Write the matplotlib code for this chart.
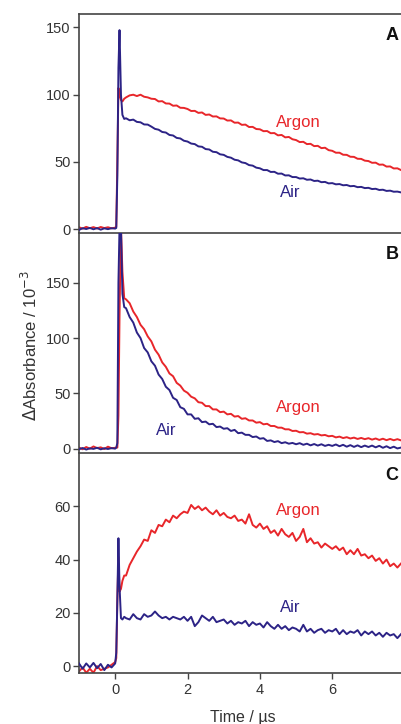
import numpy as np
import matplotlib.pyplot as plt

plt.rcParams['font.family'] = ['Liberation Sans', 'DejaVu Sans']

# time axis (microseconds): baseline, the laser pulse, then the decay
t_pre = [-1.0, -0.9, -0.8, -0.7, -0.6, -0.5, -0.4, -0.3, -0.2, -0.1, 0.0]
t_rise = [0.03, 0.06, 0.09, 0.12, 0.16, 0.2, 0.25]
t_tail = [0.3, 0.4, 0.5, 0.6, 0.7, 0.8, 0.9,
          1.0, 1.1, 1.2, 1.3, 1.4, 1.5, 1.6, 1.7, 1.8, 1.9,
          2.0, 2.1, 2.2, 2.3, 2.4, 2.5, 2.6, 2.7, 2.8, 2.9,
          3.0, 3.1, 3.2, 3.3, 3.4, 3.5, 3.6, 3.7, 3.8, 3.9,
          4.0, 4.1, 4.2, 4.3, 4.4, 4.5, 4.6, 4.7, 4.8, 4.9,
          5.0, 5.1, 5.2, 5.3, 5.4, 5.5, 5.6, 5.7, 5.8, 5.9,
          6.0, 6.1, 6.2, 6.3, 6.4, 6.5, 6.6, 6.7, 6.8, 6.9,
          7.0, 7.1, 7.2, 7.3, 7.4, 7.5, 7.6, 7.7, 7.8, 7.9]
time = t_pre + t_rise + t_tail

# Panel A
a_argon = [1.5, 0.5, 1.8, 0.8, 1.6, 0.6, 1.7, 0.9, 1.5, 0.7, 1.2,
           2, 50, 105, 100, 96, 95, 97,
           98, 99.5, 100, 99, 100, 98.5, 98,
           97, 96.8, 95.0, 95.2, 93.5, 93.4, 91.8, 92.0, 90.3, 90.2,
           89.4, 87.9, 88.0, 86.5, 86.8, 85.0, 85.3, 83.8, 83.9, 82.4,
           82.3, 80.8, 80.9, 79.2, 79.3, 77.6, 77.8, 76.0, 76.1, 74.5,
           74.3, 72.9, 73.0, 71.4, 71.5, 69.8, 70.1, 68.3, 68.6, 66.9,
           66.3, 64.8, 65.0, 63.3, 63.5, 61.8, 62.0, 60.3, 60.6, 58.8,
           58.3, 56.9, 56.9, 55.4, 55.3, 53.9, 53.8, 52.4, 52.3, 51.0,
           50.7, 49.4, 49.5, 48.0, 48.1, 46.6, 46.7, 45.2, 45.3, 44.0]
a_air = [-0.5, 0.8, 0.2, 1.0, 0.0, 0.9, -0.3, 0.7, 0.1, 0.8, 0.5,
         1, 40, 120, 148, 100, 85, 82,
         82.5, 81.0, 81.5, 79.8, 79.5, 77.9, 77.8,
         76.3, 74.6, 74.0, 72.3, 71.9, 70.1, 69.7, 67.9, 67.5, 65.8,
         65.2, 63.7, 63.3, 61.6, 61.3, 59.6, 59.3, 57.6, 57.3, 55.7,
         55.3, 53.8, 53.2, 51.7, 51.2, 49.7, 49.2, 47.7, 47.3, 45.8,
         45.3, 44.0, 44.0, 42.6, 42.7, 41.3, 41.4, 40.0, 40.1, 38.8,
         38.8, 37.7, 37.9, 36.8, 37.0, 35.9, 36.1, 35.0, 35.2, 34.1,
         34.3, 33.4, 33.6, 32.7, 32.9, 32.0, 32.2, 31.3, 31.5, 30.6,
         30.8, 29.9, 30.1, 29.2, 29.4, 28.5, 28.7, 27.9, 28.0, 27.4]

# Panel B
b_argon = [1.0, -0.5, 1.5, 0.0, 2.0, 0.5, 1.2, -0.3, 1.8, 0.4, 0.8,
           1, 1, 30, 120, 200, 160, 136,
           135, 131.5, 124, 119, 112, 108, 101.5,
           97, 89.5, 85, 78, 74, 68, 65.5, 59.5, 57, 52.5,
           50.5, 47, 45.5, 42, 41.5, 38.5, 38.5, 35.5, 35.5, 33,
           33.5, 31, 31.5, 29, 29.5, 27, 27.5, 25.5, 25.5, 23.5,
           24, 22, 22.5, 20.5, 20.5, 19, 19, 17.5, 17.5, 16,
           16.2, 14.8, 15.0, 13.6, 14.0, 12.8, 13.2, 12.0, 12.4, 11.2,
           11.6, 10.2, 10.9, 9.6, 10.4, 9.2, 10.0, 8.8, 9.7, 8.6,
           9.5, 8.2, 9.2, 7.9, 9.0, 7.7, 8.8, 7.6, 8.6, 7.5]
b_air = [-0.5, 0.6, -0.8, 0.3, -0.2, 0.8, -0.6, 0.4, -0.3, 0.5, 0.0,
         1, 5, 150, 200, 200, 140, 128,
         127, 119, 114, 105, 100, 91, 87,
         79, 75, 67, 63, 56, 53, 46, 44, 37.5, 36,
         31, 31, 27, 27.5, 24, 24.5, 22, 22.5, 19.5, 20,
         18, 18.5, 16, 17, 14, 14.5, 12.5, 12.5, 10.5, 11,
         9, 9.5, 7, 7.5, 6, 6.8, 5, 5.8, 4.5, 5.2,
         4, 5, 3.5, 4.5, 3, 4.2, 2.8, 4, 2.5, 3.5,
         2.5, 3.8, 2.2, 3.5, 1.8, 3.2, 1.6, 3, 1.4, 2.8,
         1.5, 2.8, 1.2, 2.6, 0.8, 2.2, 0.5, 1.8, 0.2, 1.0]

# Panel C
c_argon = [-2, -0.5, -2.5, -1, -2.5, 0, -1.5, -1, -0.5, 0.5, 1.5,
           3, 25, 41, 28, 29, 32, 34,
           34, 38, 40.5, 43, 45, 47.5, 47,
           51, 50, 53, 52.5, 55, 54, 56.5, 55.5, 57, 58,
           57.5, 60.5, 59, 60, 58.5, 59.5, 58, 57, 58.5, 56.5,
           57.5, 56, 55.5, 56.5, 54.5, 55, 53.5, 57, 53, 52,
           53.5, 51.5, 52.5, 50, 51, 49, 51.5, 49.5, 48.5, 50,
           47, 48.5, 51.5, 46.5, 48, 46, 46.5, 44.5, 46, 45,
           44, 45, 43.5, 44.5, 42, 43.5, 42, 44, 41.5, 42,
           40.5, 41.5, 39.5, 40.5, 38.5, 40, 37.5, 38.5, 37, 38.5]
c_air = [1.0, -1.0, 1.0, -0.5, 1.2, -0.8, 0.8, -1.5, 0.5, -0.5, 1.0,
         5, 25, 48, 30, 18, 17.5, 18.5,
         18, 17.5, 19.5, 18, 17.5, 19.5, 18.5,
         19, 20.5, 19, 18, 18.5, 17.5, 18.5, 18, 17.5, 18.5,
         17, 18.5, 15, 16.5, 19, 18, 17, 18.5, 16.5, 17,
         17.5, 16, 17, 15.5, 16.5, 16, 17, 15, 16.5, 15.5,
         16, 14.5, 16.5, 15, 14, 15.5, 14, 15, 13.5, 14.5,
         14, 13, 15.5, 13, 14, 12.5, 13.5, 14, 12.5, 13.5,
         13, 14, 12, 13.5, 12, 13, 12.5, 13.5, 11.5, 13,
         12, 13, 11.5, 12.5, 11, 12.5, 11.5, 12, 10.5, 12]

panels = ['A', 'B', 'C']
argon_series = [a_argon, b_argon, c_argon]
air_series = [a_air, b_air, c_air]
ylims = [(-2, 160), (-3, 195), (-2.6, 80)]
yticks = [[0, 50, 100, 150], [0, 50, 100, 150], [0, 20, 40, 60]]
xticks = [0, 2, 4, 6]

red = '#e8262a'
blue = '#2c2386'
grey = '#333333'

# where the gas labels sit in each panel (axes fraction)
argon_pos = [(0.68, 0.50), (0.68, 0.205), (0.68, 0.74)]
air_pos = [(0.655, 0.18), (0.27, 0.10), (0.655, 0.30)]

fig = plt.figure(figsize=(4.01, 7.24), dpi=100)
boxes = [(0.197, 0.6796, 0.803, 0.3011),
         (0.197, 0.3757, 0.803, 0.3025),
         (0.197, 0.0704, 0.803, 0.3039)]

for i, name in enumerate(panels):
    ax = fig.add_axes(boxes[i])
    ax.plot(time, argon_series[i], color=red, lw=1.4, zorder=2)
    ax.plot(time, air_series[i], color=blue, lw=1.4, zorder=3)
    ax.set_xlim(-1, 7.9)
    ax.set_ylim(*ylims[i])
    ax.set_yticks(yticks[i])
    ax.spines['right'].set_visible(False)
    # the next panel's top line is the boundary, so drop the bottom one
    if i < 2:
        ax.spines['bottom'].set_visible(False)
    for s in ['left', 'top', 'bottom']:
        ax.spines[s].set_linewidth(1.2)
        ax.spines[s].set_color('#444444')
    ax.tick_params(axis='y', direction='out', length=4, width=1,
                   colors='#444444', labelcolor=grey, labelsize=10.5, pad=2)
    if i == 2:
        ax.set_xticks(xticks)
        ax.tick_params(axis='x', direction='out', length=4, width=1,
                       colors='#444444', labelcolor=grey, labelsize=10.5, pad=3)
    else:
        ax.set_xticks([])
    ax.text(0.972, 0.90, name, transform=ax.transAxes, fontsize=13,
            fontweight='bold', color='#111111', ha='center', va='center')
    ax.text(*argon_pos[i], 'Argon', transform=ax.transAxes, fontsize=12,
            color=red, ha='center', va='center')
    ax.text(*air_pos[i], 'Air', transform=ax.transAxes, fontsize=12,
            color=blue, ha='center', va='center')

fig.text(0.075, 0.523, r'$\Delta$Absorbance / 10$^{-3}$', rotation=90,
         fontsize=12, color=grey, ha='center', va='center')
fig.text(0.606, 0.009, 'Time / µs', fontsize=11.5, color=grey,
         ha='center', va='center')

fig.savefig('out.png', dpi=100, facecolor='white')
